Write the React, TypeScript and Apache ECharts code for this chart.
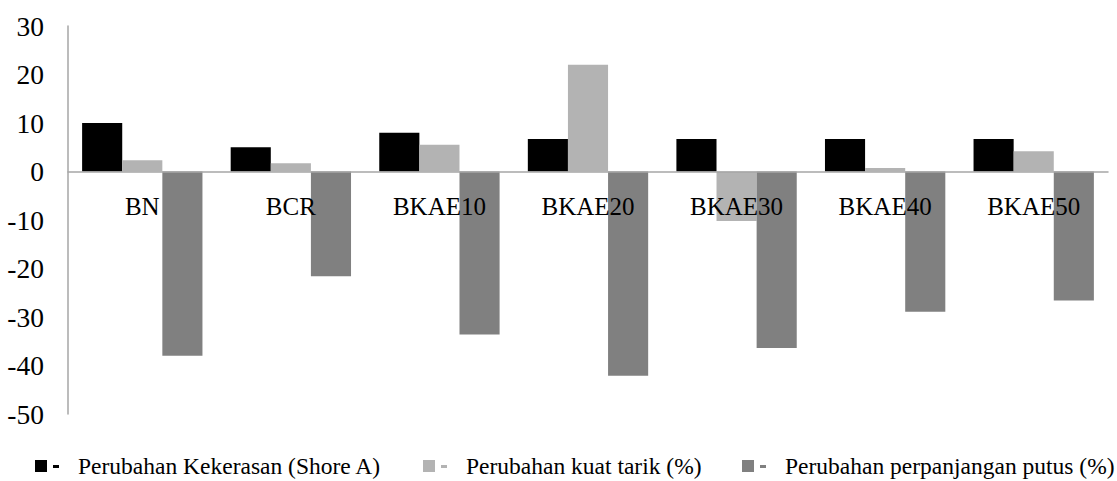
import React, { useEffect, useRef } from "react";
import * as echarts from "echarts";

const categories = ["BN", "BCR", "BKAE10", "BKAE20", "BKAE30", "BKAE40", "BKAE50"];
const seriesNames = [
  "Perubahan Kekerasan (Shore A)",
  "Perubahan kuat tarik (%)",
  "Perubahan perpanjangan putus (%)",
];
const hardness = [10, 5, 8, 6.7, 6.7, 6.7, 6.7];
const tensile = [2.3, 1.7, 5.5, 22, -10.2, 0.7, 4.2];
const elongation = [-38, -21.6, -33.6, -42.1, -36.4, -28.9, -26.6];
const yTicks = { min: -50, max: 30, interval: 10 };

const colors = ["#000000", "#b3b3b3", "#808080"];
const FONT = "Liberation Serif";
const ICON = "path://M0 0H12V12H0Z M18 5H24V8H18Z";

export default function App() {
  const ref = useRef<HTMLDivElement>(null);
  useEffect(() => {
    if (!ref.current) return;
    const chart = echarts.init(ref.current, undefined, { renderer: "svg" });
    const values = [hardness, tensile, elongation];
    const legendLefts = [35, 423, 742];
    const gridTop = 26;
    const gridBottom = 67;
    const plotH = 481 - gridTop - gridBottom;
    const zeroFromBottom = (plotH * (0 - yTicks.min)) / (yTicks.max - yTicks.min);
    chart.setOption({
      animation: false,
      backgroundColor: "#ffffff",
      textStyle: { fontFamily: FONT, color: "#000000" },
      grid: { left: 68, right: 9, top: gridTop, bottom: gridBottom },
      legend: seriesNames.map((n, i) => ({
        data: [n],
        left: legendLefts[i],
        top: 454,
        padding: 0,
        icon: ICON,
        itemWidth: 24,
        itemHeight: 12,
        selectedMode: false,
        textStyle: {
          fontFamily: FONT,
          fontSize: 23.5,
          color: "#000000",
          padding: [0, 0, 0, 14],
        },
      })),
      xAxis: {
        type: "category",
        data: categories,
        z: 10,
        position: "bottom",
        offset: -zeroFromBottom,
        axisLine: { onZero: false, lineStyle: { color: "#a6a6a6", width: 1.5 } },
        axisTick: { show: false },
        axisLabel: {
          fontFamily: FONT,
          fontSize: 25,
          color: "#000000",
          margin: 22,
          interval: 0,
        },
        splitLine: { show: false },
      },
      yAxis: {
        type: "value",
        min: yTicks.min,
        max: yTicks.max,
        interval: yTicks.interval,
        axisLine: { show: true, lineStyle: { color: "#a6a6a6", width: 1.5 } },
        axisTick: { show: false },
        splitLine: { show: false },
        axisLabel: {
          fontFamily: FONT,
          fontSize: 27.5,
          color: "#000000",
          margin: 24,
        },
      },
      series: seriesNames.map((n, i) => ({
        name: n,
        type: "bar",
        data: values[i],
        barGap: "0%",
        barCategoryGap: "19%",
        itemStyle: { color: colors[i] },
      })),
    });
    return () => chart.dispose();
  }, []);
  return (
    <div
      ref={ref}
      style={{ position: "fixed", left: 0, top: 0, width: 1117, height: 481 }}
    />
  );
}
